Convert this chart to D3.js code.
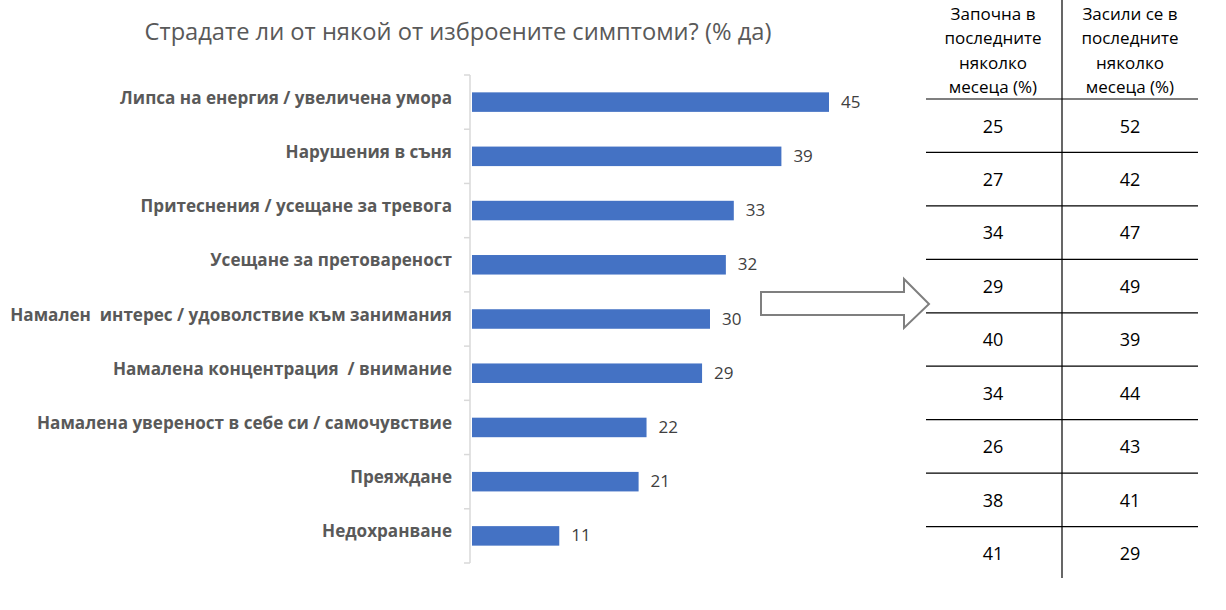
<!DOCTYPE html>
<html lang="bg">
<head>
<meta charset="UTF-8" />
<title>Симптоми</title>
<script src="https://d3js.org/d3.v7.min.js"></script>
<style>
  body { margin: 0; background: #fff; }
</style>
</head>
<body>
<div id="container"></div>
<script>
const categories = [
  "Липса на енергия / увеличена умора",
  "Нарушения в съня",
  "Притеснения / усещане за тревога",
  "Усещане за претовареност",
  "Намален  интерес / удоволствие към занимания",
  "Намалена концентрация  / внимание",
  "Намалена увереност в себе си / самочувствие",
  "Преяждане",
  "Недохранване"
]
const values = [45, 39, 33, 32, 30, 29, 22, 21, 11]
const startedRecently = [25, 27, 34, 29, 40, 34, 26, 38, 41]
const intensifiedRecently = [52, 42, 47, 49, 39, 44, 43, 41, 29]
const tableHeaders = [
  ["Започна в", "последните", "няколко", "месеца (%)"],
  ["Засили се в", "последните", "няколко", "месеца (%)"]
]

const width = 1226, height = 610
const font = "'Open Sans', 'Noto Sans', sans-serif"

const svg = d3.select("#container").append("svg")
  .attr("width", width)
  .attr("height", height)
  .attr("viewBox", [0, 0, width, height])
  .style("font-family", font)

// scale a text selection's font size so its widest item matches target width
function fitWidth(sel, target) {
  let maxW = 0
  sel.each(function () { maxW = Math.max(maxW, this.getComputedTextLength()) })
  const fs = parseFloat(sel.style("font-size"))
  sel.style("font-size", (fs * target / maxW).toFixed(2) + "px")
}

// title
const title = svg.append("text")
  .attr("x", 458)
  .attr("y", 40)
  .attr("text-anchor", "middle")
  .attr("fill", "#595959")
  .style("font-size", "20px")
  .text("Страдате ли от някой от изброените симптоми? (% да)")
fitWidth(title, 627)

// bar chart
const axisX = 470
const y = d3.scaleBand()
  .domain(categories)
  .range([75, 563])
  .padding(0)

const x = d3.scaleLinear()
  .domain([0, 45])
  .range([axisX + 2, 829])

const barH = y.bandwidth() * 0.36

svg.append("g")
  .selectAll("rect")
  .data(values)
  .join("rect")
  .attr("x", x(0))
  .attr("y", (d, i) => y(categories[i]) + y.bandwidth() / 2 - barH / 2)
  .attr("width", d => x(d) - x(0))
  .attr("height", barH)
  .attr("fill", "#4472c4")

// axis with ticks at band boundaries
const axisG = svg.append("g").attr("stroke", "#d9d9d9").attr("stroke-width", 1.5)
axisG.append("line")
  .attr("x1", axisX).attr("x2", axisX)
  .attr("y1", y.range()[0]).attr("y2", y.range()[1])
const boundaries = categories.map(c => y(c)).concat([y.range()[1]])
axisG.selectAll("line.tick")
  .data(boundaries)
  .join("line")
  .attr("class", "tick")
  .attr("x1", axisX - 6).attr("x2", axisX)
  .attr("y1", d => d).attr("y2", d => d)

// category labels
const catLabels = svg.append("g")
  .selectAll("text")
  .data(categories)
  .join("text")
  .attr("x", 452)
  .attr("y", d => y(d) + y.bandwidth() / 2 - 3)
  .attr("text-anchor", "end")
  .attr("dominant-baseline", "middle")
  .attr("fill", "#595959")
  .style("font-size", "16px")
  .style("font-weight", "bold")
  .style("white-space", "pre")
  .text(d => d)
fitWidth(catLabels, 442)

// value labels
svg.append("g")
  .selectAll("text")
  .data(values)
  .join("text")
  .attr("x", d => x(d) + 12)
  .attr("y", (d, i) => y(categories[i]) + y.bandwidth() / 2 + 1)
  .attr("dominant-baseline", "middle")
  .attr("fill", "#404040")
  .style("font-size", "17px")
  .text(d => d)

// arrow
svg.append("path")
  .attr("d", "M761,292 L904,292 L904,279 L929,304 L904,328 L904,315 L761,315 Z")
  .attr("fill", "#fff")
  .attr("stroke", "#7f7f7f")
  .attr("stroke-width", 2)

// table
const rowY = d3.scaleBand().domain(d3.range(categories.length)).range([99, 580])
const colCenters = [993, 1130]
const tbl = svg.append("g")

tbl.append("line")
  .attr("x1", 1062).attr("x2", 1062)
  .attr("y1", 0).attr("y2", 578)
  .attr("stroke", "#000").attr("stroke-width", 1.2)

tbl.selectAll("line.row")
  .data(d3.range(categories.length))
  .join("line")
  .attr("class", "row")
  .attr("x1", 926).attr("x2", 1198)
  .attr("y1", d => rowY(d)).attr("y2", d => rowY(d))
  .attr("stroke", "#000").attr("stroke-width", 1.2)

tableHeaders.forEach((lines, c) => {
  tbl.append("g")
    .selectAll("text")
    .data(lines)
    .join("text")
    .attr("x", colCenters[c])
    .attr("y", (d, i) => 15 + i * 24.5)
    .attr("text-anchor", "middle")
    .attr("dominant-baseline", "middle")
    .attr("fill", "#000")
    .style("font-size", "17px")
    .text(d => d)
})

const cols = [startedRecently, intensifiedRecently]
cols.forEach((col, c) => {
  tbl.append("g")
    .selectAll("text")
    .data(col)
    .join("text")
    .attr("x", colCenters[c])
    .attr("y", (d, i) => rowY(i) + rowY.bandwidth() / 2 + 2)
    .attr("text-anchor", "middle")
    .attr("dominant-baseline", "middle")
    .attr("fill", "#000")
    .style("font-size", "18px")
    .text(d => d)
})
</script>
</body>
</html>
